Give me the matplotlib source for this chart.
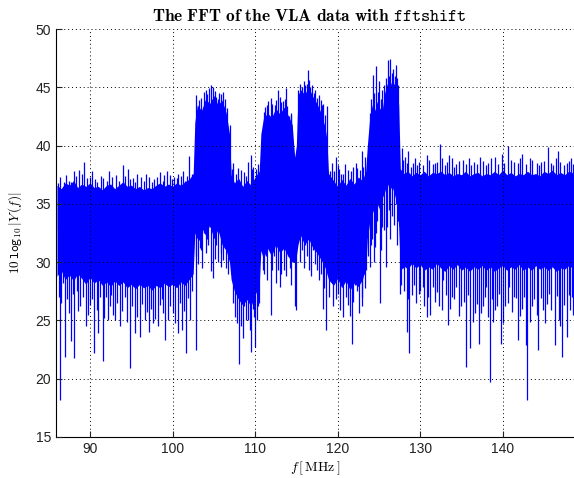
import numpy as np
import matplotlib
matplotlib.use("Agg")
import matplotlib.pyplot as plt

plt.rcParams['mathtext.fontset'] = 'cm'
plt.rcParams['font.family'] = ['Liberation Sans', 'DejaVu Sans']

# dense part of the spectrum: frequency [MHz], top and bottom [dB]
edge_x = [86.0, 86.5, 87.0, 87.5, 88.0, 88.5, 89.0, 89.5, 90.0, 90.5, 91.0, 91.5,
          92.0, 92.5, 93.0, 93.5, 94.0, 94.5, 95.0, 95.5, 96.0, 96.5, 97.0, 97.5,
          98.0, 98.5, 99.0, 99.5, 100.0, 100.5, 101.0, 101.5, 102.0, 102.5,
          102.7, 103.0, 103.5, 104.0, 104.5, 105.0, 105.5, 106.0, 106.5, 106.9,
          107.1, 107.5, 108.0, 108.5, 109.0, 109.5, 110.0, 110.5,
          110.7, 111.0, 111.5, 112.0, 112.5, 113.0, 113.5, 114.0, 114.5,
          114.8, 115.0,
          115.2, 115.5, 116.0, 116.5, 117.0, 117.5, 118.0, 118.5, 118.7,
          118.9, 119.5, 120.0, 120.5, 121.0, 121.5, 122.0, 122.5, 123.0, 123.4,
          123.6, 123.9, 124.2, 124.5, 124.8, 125.1, 125.4, 125.7, 126.0, 126.3,
          126.6, 126.9, 127.2, 127.4,
          127.6, 128.0, 128.5, 129.0, 129.5, 130.0, 130.5, 131.0, 131.5, 132.0,
          132.5, 133.0, 133.5, 134.0, 134.5, 135.0, 135.5, 136.0, 136.5, 137.0,
          137.5, 138.0, 138.5, 139.0, 139.5, 140.0, 140.5, 141.0, 141.5, 142.0,
          142.5, 143.0, 143.5, 144.0, 144.5, 145.0, 145.5, 146.0, 146.5, 147.0,
          147.5, 148.0, 148.7]
edge_hi = [36.6, 36.3, 36.8, 36.6, 37.0, 36.4, 36.7, 36.5, 36.8, 36.4, 36.5, 36.2,
           36.6, 36.7, 36.3, 36.6, 36.9, 36.5, 36.6, 36.3, 36.5, 36.2, 36.4, 36.3,
           36.6, 36.8, 36.5, 36.7, 36.5, 36.8, 36.6, 36.9, 37.1, 37.6,
           42.0, 43.5, 43.0, 44.0, 43.6, 44.3, 43.5, 43.9, 42.8, 41.0,
           37.5, 36.8, 37.2, 36.5, 37.0, 36.6, 37.3, 37.8,
           41.0, 42.3, 42.8, 42.4, 43.2, 42.7, 43.3, 42.6, 41.8,
           39.0, 40.0,
           44.3, 44.8, 44.4, 45.0, 44.2, 43.6, 42.8, 41.5, 40.5,
           37.6, 37.0, 36.5, 37.1, 36.6, 37.2, 36.7, 37.3, 37.0, 37.8,
           40.0, 42.5, 43.5, 43.0, 43.8, 43.2, 43.0, 44.5, 45.3, 45.0,
           45.6, 45.2, 45.0, 43.5,
           38.0, 37.6, 37.8, 37.4, 37.7, 37.5, 37.8, 37.4, 37.7, 37.6,
           37.8, 37.5, 37.7, 37.4, 37.6, 37.5, 37.8, 37.4, 37.6, 37.7,
           37.4, 37.6, 37.5, 37.8, 37.5, 37.9, 37.5, 37.7, 37.4, 37.6,
           37.5, 37.8, 37.5, 37.6, 37.4, 37.8, 37.6, 37.9, 37.5, 37.7,
           37.5, 37.8, 37.6]
edge_lo = [28.8, 29.3, 28.5, 28.9, 28.4, 29.0, 28.6, 28.1, 28.7, 28.2, 28.5, 28.0,
           28.3, 27.9, 28.4, 28.0, 28.3, 27.8, 28.1, 27.7, 28.1, 27.8, 28.0, 27.6,
           28.0, 27.8, 28.2, 27.9, 28.1, 27.8, 28.3, 28.0, 28.5, 29.0,
           32.5, 32.0, 33.0, 32.3, 33.2, 32.0, 32.8, 31.5, 31.0, 30.0,
           28.5, 27.5, 26.8, 26.3, 26.8, 26.2, 27.2, 28.0,
           31.0, 30.3, 31.2, 30.5, 31.5, 30.8, 31.2, 30.5, 30.0,
           30.0, 30.5,
           31.5, 32.3, 31.5, 32.0, 31.2, 30.8, 30.2, 29.5, 29.0,
           28.5, 28.0, 28.6, 27.8, 28.4, 27.6, 28.2, 27.9, 28.5, 29.5,
           32.0, 33.5, 34.5, 34.0, 35.0, 34.5, 35.5, 36.0, 36.8, 36.2,
           36.5, 35.8, 35.0, 33.0,
           29.2, 29.7, 29.4, 29.9, 29.5, 29.8, 29.3, 29.6, 29.4, 29.9,
           29.5, 29.2, 29.7, 29.4, 29.8, 29.3, 29.6, 29.2, 29.6, 29.4,
           29.7, 29.3, 29.6, 29.2, 29.5, 29.7, 29.3, 29.6, 29.4, 29.8,
           29.3, 29.6, 29.3, 29.7, 29.4, 29.6, 29.3, 29.6, 29.2, 29.5,
           29.4, 29.7, 29.4]

# tall upward spikes (frequency, level)
up_x = [86.16, 86.85, 87.4, 88.06, 88.7, 89.27, 90.0, 90.6, 91.3, 92.34, 93.2, 93.96,
        94.64, 95.2, 95.73, 96.5, 97.2, 97.8, 98.48, 99.0, 99.69, 100.2, 100.7, 101.3,
        101.7, 102.03,
        102.9, 103.2, 103.8, 104.2, 104.6, 104.9, 105.3, 105.67, 106.15, 106.6, 106.96,
        107.36, 107.97, 108.6, 109.18, 109.47, 109.8, 110.1, 110.4,
        111.2, 111.6, 111.9, 112.4, 112.74, 113.0, 113.4, 113.75, 114.1, 114.4, 114.6,
        115.24, 115.7, 116.05, 116.37, 116.7, 117.1, 117.5, 117.95, 118.2, 118.68,
        119.1, 119.8, 120.2, 120.6, 121.3, 121.9, 122.4, 122.9, 123.3,
        123.9, 124.25, 124.65, 125.05, 125.4, 125.86, 126.1, 126.4, 126.75, 127.07, 127.35,
        127.76, 128.2, 128.57, 129.1, 129.66, 130.79, 131.5, 132.4, 133.0, 133.5, 134.4,
        135.2, 136.2, 137.25, 138.2, 139.07, 139.9, 140.7, 141.4, 142.4, 143.3, 144.1,
        144.6, 145.53, 146.1, 146.66, 147.75, 148.3]
up_y = [36.8, 36.9, 37.0, 37.8, 37.9, 38.6, 37.3, 37.1, 37.4, 37.8, 37.5, 38.3,
        38.0, 37.2, 37.6, 37.0, 37.3, 37.1, 37.7, 37.5, 37.5, 37.3, 37.6, 37.8,
        37.4, 39.1,
        44.3, 43.9, 44.6, 44.4, 45.2, 45.05, 44.2, 44.5, 44.6, 43.2, 41.8,
        38.5, 38.05, 37.7, 38.6, 39.2, 38.2, 38.0, 37.8,
        43.3, 43.8, 44.1, 43.5, 44.8, 44.2, 43.8, 44.9, 42.5, 42.6, 39.05,
        44.8, 45.0, 45.2, 46.5, 45.0, 44.5, 44.1, 43.9, 43.6, 43.4,
        37.8, 39.05, 38.0, 37.6, 37.9, 38.2, 38.1, 39.5, 39.05,
        42.8, 46.05, 46.8, 45.5, 44.8, 45.8, 47.3, 47.4, 46.6, 46.9, 45.2,
        39.8, 39.0, 39.5, 38.5, 38.3, 39.2, 38.4, 40.1, 38.3, 39.2, 38.4,
        38.8, 38.3, 39.05, 38.5, 39.05, 39.3, 40.0, 38.6, 39.3, 38.9, 38.5,
        38.6, 39.9, 38.3, 39.5, 38.5, 38.9]

# shorter upward spikes along the top of the band
up2_x = [86.4, 87.1, 87.7, 88.35, 89.0, 89.6, 90.3, 90.9, 91.6, 92.0, 92.7, 93.5,
         94.3, 94.9, 95.5, 96.2, 96.8, 97.5, 98.1, 98.8, 99.3, 99.9, 100.5, 101.0,
         101.5, 102.3,
         103.4, 104.0, 104.4, 105.1, 105.5, 105.9, 106.3,
         107.2, 107.7, 108.3, 108.9, 109.6, 110.3,
         111.05, 111.4, 112.1, 112.55, 113.2, 113.6, 113.9, 114.3,
         115.4, 115.9, 116.25, 116.55, 116.9, 117.3, 117.7, 118.05, 118.45,
         119.3, 119.6, 120.0, 120.4, 120.9, 121.6, 122.2, 122.7, 123.1,
         124.0, 124.45, 124.85, 125.2, 125.6, 126.2, 126.55, 126.9, 127.2,
         127.9, 128.4, 128.9, 129.4, 129.9, 130.4, 131.1, 131.8, 132.1, 132.7, 133.3,
         133.8, 134.1, 134.7, 135.5, 135.9, 136.5, 136.9, 137.6, 138.0, 138.6, 139.4,
         140.2, 141.0, 141.8, 142.1, 142.8, 143.6, 144.4, 145.0, 145.8, 146.4, 147.0,
         147.4, 148.0, 148.55]
up2_y = [37.3, 37.5, 36.9, 37.4, 37.6, 37.2, 37.8, 36.9, 37.2, 37.0, 37.3, 37.0,
         37.4, 37.1, 36.9, 37.3, 37.6, 36.9, 37.3, 37.0, 37.8, 37.1, 37.2, 37.4,
         37.0, 37.6,
         44.1, 44.8, 44.9, 44.7, 44.0, 44.4, 44.0,
         38.0, 37.6, 37.9, 37.4, 38.0, 38.4,
         42.9, 43.5, 43.6, 43.9, 43.7, 44.0, 43.4, 42.8,
         45.3, 45.5, 45.3, 45.6, 45.2, 44.8, 44.3, 43.5, 42.6,
         38.5, 37.8, 38.3, 37.6, 38.4, 37.8, 38.5, 37.9, 38.2,
         44.0, 44.5, 44.6, 44.0, 45.2, 46.0, 46.2, 46.0, 45.8,
         38.8, 38.5, 38.2, 38.9, 38.6, 38.3, 38.8, 38.5, 38.6, 38.9, 38.6,
         38.9, 38.2, 38.7, 38.4, 38.9, 38.6, 38.4, 38.7, 38.3, 38.9, 38.4,
         38.5, 38.8, 38.5, 38.9, 38.4, 38.8, 38.3, 38.7, 38.5, 38.9, 38.6,
         38.3, 38.7, 38.4]

# tall downward spikes (frequency, level)
dn_x = [86.36, 86.69, 86.93, 87.49, 87.66, 88.06, 88.4, 88.79, 89.51, 89.99, 90.52, 91.0,
        91.54, 91.9, 92.2, 92.6, 93.0, 93.6, 94.2, 94.85, 95.45, 96.06, 96.66, 97.15,
        97.67, 98.27, 98.7, 99.1, 99.49, 100.1, 100.7, 101.1, 101.63, 102.1, 102.8,
        103.2, 103.5, 103.8, 104.2, 104.5, 104.9, 105.3, 105.7, 105.9, 106.15, 106.5,
        107.57, 108.1, 108.3, 108.7, 109.2, 109.47, 109.7, 109.99, 110.2, 110.45,
        110.9, 111.3, 111.9, 112.3, 112.74, 113.0, 113.5, 114.0, 114.4, 114.8, 115.0,
        115.65, 116.1, 116.57, 117.0, 117.54, 117.8, 118.2, 118.6,
        119.3, 119.5, 120.0, 120.7, 121.0, 121.7, 122.1, 122.4, 122.9, 123.2, 123.45,
        123.9, 124.2, 124.5, 124.8, 125.1, 125.4, 125.86, 126.2, 126.6, 127.1, 127.35,
        127.56, 127.9, 128.37, 128.7, 129.2, 129.8, 130.3, 130.79, 131.5, 132.3, 132.8,
        133.4, 133.8, 134.4, 135.0, 135.6, 136.1, 136.6, 137.17, 137.6, 138.0, 138.46,
        138.86, 139.3, 139.76, 140.3, 140.8, 141.4, 141.9, 142.4, 142.82, 143.0, 143.6,
        144.3, 144.9, 145.6, 146.3, 146.8, 147.15, 147.75, 148.1, 148.4]
dn_y = [18.2, 28.2, 21.9, 25.6, 23.2, 21.75, 27.5, 26.2, 24.5, 26.3, 22.2, 23.9,
        21.5, 27.0, 25.0, 27.2, 25.0, 24.5, 27.0, 20.9, 23.9, 23.6, 25.0, 24.0,
        24.8, 24.5, 26.8, 23.3, 25.0, 25.6, 23.9, 24.2, 22.2, 25.0, 22.5,
        31.9, 31.0, 32.5, 32.0, 33.0, 28.6, 31.5, 32.5, 30.8, 30.2, 29.5,
        25.3, 21.3, 24.5, 26.2, 25.0, 22.3, 26.0, 22.75, 25.0, 26.5,
        29.3, 30.5, 25.5, 30.5, 29.3, 27.9, 29.3, 30.5, 28.0, 26.2, 25.9,
        31.0, 31.5, 29.3, 31.0, 29.3, 30.5, 26.0, 24.2,
        28.75, 26.2, 27.3, 25.3, 27.0, 23.0, 28.0, 27.5, 26.2, 29.0, 29.3,
        29.6, 32.0, 31.3, 33.5, 26.5, 33.0, 29.6, 34.5, 34.0, 35.0, 33.5,
        27.3, 29.5, 24.0, 22.2, 28.0, 27.3, 27.9, 25.3, 27.9, 26.2, 28.5,
        24.6, 27.0, 27.9, 26.2, 21.0, 22.6, 25.6, 23.0, 26.2, 27.9, 19.75,
        24.9, 26.2, 23.0, 26.2, 27.9, 27.0, 23.3, 26.0, 22.9, 18.2, 26.2,
        22.5, 25.9, 27.3, 22.9, 25.0, 21.9, 23.6, 25.9, 27.0]

# shorter downward spikes along the bottom of the band
dn2_x = [86.2, 86.5, 87.2, 87.9, 88.6, 89.2, 89.75, 90.25, 90.8, 91.25, 91.75, 92.4,
         92.8, 93.3, 93.9, 94.5, 95.1, 95.7, 96.3, 96.9, 97.4, 97.9, 98.5, 98.9,
         99.7, 100.3, 100.9, 101.35, 101.9, 102.4,
         102.9, 103.1, 103.35, 103.6, 104.0, 104.35, 104.7, 105.1, 105.5, 105.85,
         106.3, 106.7,
         107.3, 107.8, 108.5, 108.9, 109.35, 109.85, 110.3,
         111.1, 111.5, 112.0, 112.5, 113.2, 113.7, 114.2,
         115.4, 115.9, 116.3, 116.8, 117.2, 117.7, 118.0, 118.4,
         119.0, 119.8, 120.3, 121.2, 121.5, 121.9, 122.6, 123.0, 123.35,
         123.7, 124.0, 124.35, 124.65, 125.25, 125.6, 126.0, 126.4, 126.8, 127.2,
         127.7, 128.1, 128.5, 129.0, 129.5, 130.0, 130.5, 131.0, 131.2, 131.8, 132.0,
         132.6, 133.1, 133.6, 134.1, 134.7, 135.3, 135.8, 136.4, 136.9, 137.4, 137.8,
         138.2, 138.7, 139.1, 139.5, 140.0, 140.6, 141.1, 141.6, 142.1, 142.6, 143.3,
         143.8, 144.1, 144.6, 145.1, 145.4, 145.9, 146.6, 147.0, 147.4, 148.0, 148.55]
dn2_y = [27.0, 26.5, 26.8, 27.3, 25.8, 27.0, 25.5, 26.8, 25.9, 27.0, 25.2, 26.2,
         25.5, 26.5, 25.8, 24.9, 26.2, 25.3, 26.4, 25.7, 26.0, 25.1, 26.3, 25.6,
         26.2, 24.8, 26.5, 25.8, 26.9, 27.5,
         30.5, 29.8, 31.2, 29.5, 30.8, 31.5, 29.2, 30.3, 30.0, 29.6,
         31.2, 29.0,
         26.5, 24.8, 23.5, 25.0, 24.2, 25.3, 26.2,
         29.0, 28.5, 29.3, 28.2, 29.0, 28.8, 29.5,
         30.0, 29.5, 30.5, 28.8, 29.8, 28.5, 29.0, 27.8,
         27.0, 26.8, 25.9, 26.3, 25.4, 26.6, 25.6, 27.0, 27.8,
         30.5, 31.5, 30.0, 32.5, 31.0, 32.8, 33.0, 32.0, 33.2, 31.5,
         28.0, 27.5, 26.8, 27.2, 26.5, 27.5, 26.2, 27.0, 25.5, 26.6, 27.4,
         25.9, 27.2, 26.0, 26.8, 25.4, 26.6, 27.2, 24.9, 26.4, 25.6, 27.0,
         25.3, 26.8, 25.9, 27.3, 24.8, 26.5, 25.7, 26.9, 25.4, 27.0, 24.9,
         26.8, 25.5, 26.9, 24.8, 26.4, 25.9, 27.1, 24.5, 26.3, 27.2, 25.5]

x_ticks = [90, 100, 110, 120, 130, 140]
y_ticks = [15, 20, 25, 30, 35, 40, 45, 50]

blue = '#0000ff'

fig = plt.figure(figsize=(5.74, 4.78), dpi=100)
ax = fig.add_axes([56 / 574, 41 / 478, 518 / 574, 408 / 478])

ax.fill_between(edge_x, edge_lo, edge_hi, color=blue, lw=0)
mid = (np.array(edge_lo) + np.array(edge_hi)) / 2
for sx, sy in [(up_x, up_y), (up2_x, up2_y), (dn_x, dn_y), (dn2_x, dn2_y)]:
    ax.vlines(sx, np.interp(sx, edge_x, mid), sy, color=blue, lw=0.9)

ax.set_xlim(85.88, 148.64)
ax.set_ylim(15, 50)
ax.set_xticks(x_ticks)
ax.set_yticks(y_ticks)
ax.tick_params(direction='in', length=4, width=0.8, labelsize=10, colors='#222222')
ax.grid(True, color='black', linestyle=(0, (1, 3)), linewidth=0.7)
ax.set_axisbelow(False)
ax.spines['top'].set_visible(False)
ax.spines['right'].set_visible(False)

ax.set_title(r'$\mathbf{The\ FFT\ of\ the\ VLA\ data\ with}$ $\mathtt{fftshift}$',
             fontsize=12.5, pad=6, x=0.49)
ax.set_ylabel(r'$10\,\mathtt{log}_{10}\,|Y\,(f)|$', fontsize=9.5)
ax.yaxis.set_label_coords(-0.062, 0.5)
ax.set_xlabel(r'$f\,[\,\mathrm{MHz}\,]$', fontsize=10)
ax.xaxis.set_label_coords(0.5, -0.055)

fig.savefig('out.png', dpi=100)
